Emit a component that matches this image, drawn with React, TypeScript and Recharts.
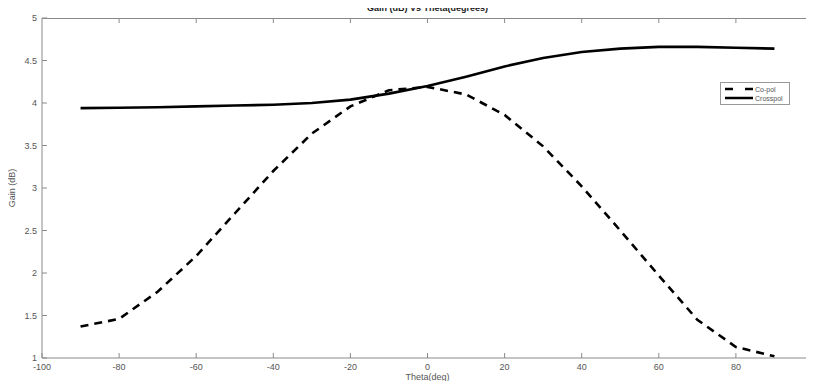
import React from 'react';
import { LineChart, Line, XAxis, YAxis } from 'recharts';

const theta = [-90, -80, -70, -60, -50, -40, -30, -20, -10, 0, 10, 20, 30, 40, 50, 60, 70, 80, 90];
const coPol = [1.37, 1.46, 1.78, 2.2, 2.7, 3.2, 3.64, 3.96, 4.15, 4.19, 4.1, 3.86, 3.49, 3.02, 2.5, 1.97, 1.45, 1.13, 1.02];
const crossPol = [3.94, 3.945, 3.95, 3.96, 3.97, 3.98, 4.0, 4.04, 4.11, 4.2, 4.31, 4.43, 4.53, 4.6, 4.64, 4.66, 4.66, 4.65, 4.64];
const xTicks = [-100, -80, -60, -40, -20, 0, 20, 40, 60, 80, 100];
const yTicks = [1, 1.5, 2, 2.5, 3, 3.5, 4, 4.5, 5];

const W = 814;
const H = 389;
const MARGIN = { top: 18, right: 1, bottom: 11, left: 12 };
const Y_AXIS_W = 30;
const X_AXIS_H = 20;
const PLOT_TOP = MARGIN.top;
const PLOT_LEFT = MARGIN.left + Y_AXIS_W;
const PLOT_RIGHT = W - MARGIN.right;
const PLOT_BOTTOM = H - MARGIN.bottom - X_AXIS_H;

const FONT = '"Liberation Sans", Arial, sans-serif';
const AXIS = '#8a8a8a';
const LABEL = '#555';

const data = theta.map((t, i) => ({ theta: t, coPol: coPol[i], crossPol: crossPol[i] }));

// bottom / left ticks point inward like matlab
const BottomTick = (props: any) => {
  const { x, y, payload } = props;
  return (
    <g>
      <line x1={x} x2={x} y1={y} y2={y - 5} stroke={AXIS} />
      <text x={x} y={y + 12} textAnchor="middle" fontSize={9} fill={LABEL} fontFamily={FONT}>
        {payload.value}
      </text>
    </g>
  );
};

const LeftTick = (props: any) => {
  const { x, y, payload } = props;
  return (
    <g>
      <line x1={x} x2={x + 5} y1={y} y2={y} stroke={AXIS} />
      <text x={x - 5} y={y + 3} textAnchor="end" fontSize={9} fill={LABEL} fontFamily={FONT}>
        {payload.value}
      </text>
    </g>
  );
};

// top and right edges of the box, with their inward ticks
const Frame = () => {
  const sx = (v: number) => PLOT_LEFT + ((v + 100) / 200) * (PLOT_RIGHT - PLOT_LEFT);
  const sy = (v: number) => PLOT_BOTTOM - ((v - 1) / 4) * (PLOT_BOTTOM - PLOT_TOP);
  return (
    <svg
      width={W} height={H}
      style={{ position: 'absolute', left: 0, top: 0, zIndex: 1, pointerEvents: 'none' }}
    >
      <line x1={PLOT_LEFT} x2={PLOT_RIGHT - 1} y1={PLOT_TOP + 0.5} y2={PLOT_TOP + 0.5} stroke={AXIS} />
      <line x1={PLOT_RIGHT - 1.5} x2={PLOT_RIGHT - 1.5} y1={PLOT_TOP} y2={PLOT_BOTTOM} stroke={AXIS} />
      {xTicks.slice(1, -1).map((t) => (
        <line key={'tx' + t} x1={sx(t)} x2={sx(t)} y1={PLOT_TOP} y2={PLOT_TOP + 5} stroke={AXIS} />
      ))}
      {yTicks.slice(1, -1).map((t) => (
        <line key={'ty' + t} x1={PLOT_RIGHT - 1} x2={PLOT_RIGHT - 6} y1={sy(t)} y2={sy(t)} stroke={AXIS} />
      ))}
    </svg>
  );
};

const LegendBox = () => (
  <div
    style={{
      position: 'absolute', left: 720, top: 82, border: '1px solid #999', background: '#fff',
      padding: '1px 2px', zIndex: 2,
    }}
  >
    <svg width={64} height={19} style={{ display: 'block' }}>
      <line x1={2} x2={30} y1={5} y2={5} stroke="#000" strokeWidth={2.5} strokeDasharray="8 12" />
      <text x={32} y={7.5} fontSize={7} fill={LABEL} fontFamily={FONT}>Co-pol</text>
      <line x1={2} x2={30} y1={14} y2={14} stroke="#000" strokeWidth={2.5} />
      <text x={32} y={16.5} fontSize={7} fill={LABEL} fontFamily={FONT}>Crosspol</text>
    </svg>
  </div>
);

export default function App() {
  return (
    <div style={{ position: 'relative', width: W, height: H, margin: -8, background: '#fff' }}>
      <LineChart width={W} height={H} data={data} margin={MARGIN}>
        <XAxis
          dataKey="theta" type="number" domain={[-100, 100]} ticks={xTicks}
          axisLine={{ stroke: AXIS }} tickLine={false} tickSize={0} tickMargin={0}
          height={X_AXIS_H} tick={<BottomTick />} interval={0}
        />
        <YAxis
          type="number" domain={[1, 5]} ticks={yTicks}
          axisLine={{ stroke: AXIS }} tickLine={false} tickSize={0} tickMargin={0}
          width={Y_AXIS_W} tick={<LeftTick />} interval={0}
        />
        <Line
          dataKey="coPol" type="linear" stroke="#000" strokeWidth={2.6}
          strokeDasharray="8 6" dot={false} isAnimationActive={false}
        />
        <Line
          dataKey="crossPol" type="linear" stroke="#000" strokeWidth={2.6}
          dot={false} isAnimationActive={false}
        />
      </LineChart>
      <Frame />
      <LegendBox />
      <div
        style={{
          position: 'absolute', top: 2, left: PLOT_LEFT, width: PLOT_RIGHT - PLOT_LEFT, height: 13,
          textAlign: 'center', zIndex: 2, fontFamily: FONT, fontSize: 9, fontWeight: 'bold',
          color: '#222', lineHeight: '13px',
        }}
      >
        Gain (dB) Vs Theta(degrees)
      </div>
      <div
        style={{
          position: 'absolute', top: 372, left: PLOT_LEFT, width: PLOT_RIGHT - PLOT_LEFT, textAlign: 'center',
          zIndex: 2, fontFamily: FONT, fontSize: 9, color: LABEL, lineHeight: '11px',
        }}
      >
        Theta(deg)
      </div>
      <div
        style={{
          position: 'absolute', left: 12, top: 188, transform: 'translate(-50%, -50%) rotate(-90deg)',
          fontFamily: FONT, fontSize: 9, color: LABEL, whiteSpace: 'nowrap', zIndex: 2,
        }}
      >
        Gain (dB)
      </div>
    </div>
  );
}
